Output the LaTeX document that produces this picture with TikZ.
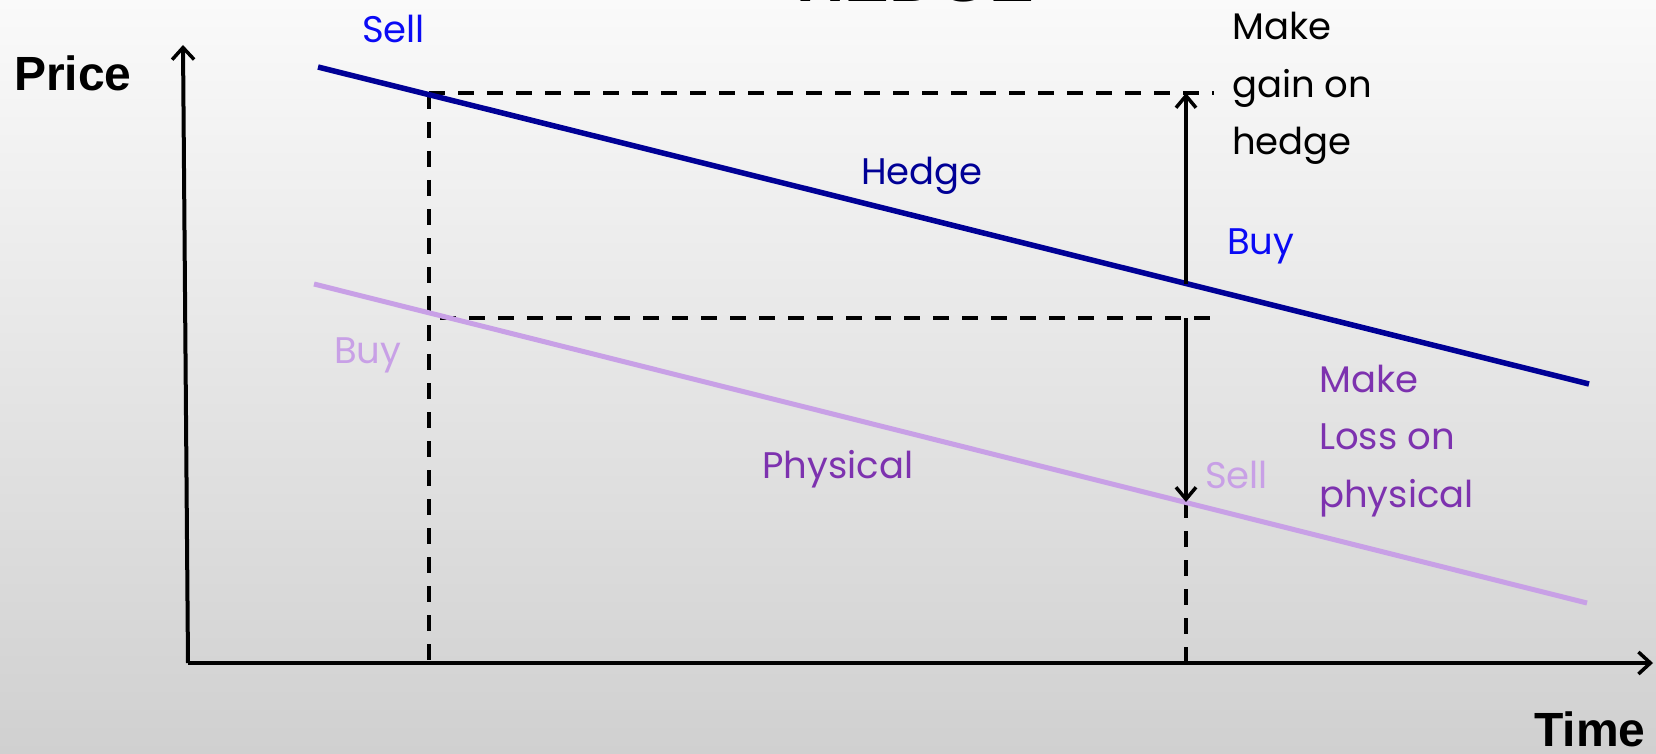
\documentclass[tikz,border=0pt]{standalone}
\usepackage{fontspec}
\setmainfont{Poppins}
\newfontfamily\arialf{Liberation Sans}
\usetikzlibrary{arrows.meta}
\definecolor{navy}{RGB}{0,0,150}
\definecolor{brightblue}{RGB}{10,10,245}
\definecolor{lilac}{RGB}{200,160,230}
\definecolor{violet}{RGB}{125,50,175}
\definecolor{bgtop}{RGB}{250,250,250}
\definecolor{bgbot}{RGB}{208,208,208}
\begin{document}
\begin{tikzpicture}[x=1pt,y=-1pt,
  lab/.style={inner sep=0pt, anchor=base west, font=\fontsize{37}{57.5}\selectfont, align=left},
  axislab/.style={inner sep=0pt, anchor=base west, font=\arialf\bfseries\fontsize{48}{48}\selectfont},
  axisline/.style={line width=4pt, -{Straight Barb[length=12pt,width=22pt,line width=3.5pt]}},
  dash3/.style={line width=4pt, dash pattern=on 16pt off 13pt},
  movearrow/.style={line width=3.5pt, -{Straight Barb[length=12pt,width=20pt,line width=3.5pt]}},
  hedgeline/.style={navy, line width=5.5pt},
  physline/.style={lilac, line width=5pt}]
\useasboundingbox (0,0) rectangle (1656,754);
\shade[top color=bgtop, bottom color=bgbot] (0,0) rectangle (1656,754);
\begin{scope}
\clip (0,0) rectangle (1656,754);
\node[inner sep=0pt, anchor=base west, font=\arialf\bfseries\fontsize{67}{67}\selectfont] (title) at (796,2) {HEDGE};
\end{scope}
% coordinates
\coordinate (O) at (188,663);
\coordinate (Ytop) at (183,45);
\coordinate (Xend) at (1653,663);
\coordinate (H1) at (318,67);
\coordinate (H2) at (1589,384);
\coordinate (P1) at (314,284);
\coordinate (P2) at (1587,603);
\coordinate (LT) at (429,93);
\coordinate (LB) at (429,663);
\coordinate (TR) at (1214,93);
\coordinate (MS) at (440,318);
\coordinate (MR) at (1214,318);
\coordinate (AH) at (1186,283.5);
\coordinate (AT) at (1186,93);
\coordinate (AM) at (1186,318);
\coordinate (AP) at (1186,502);
\coordinate (AB) at (1186,663);
% dashed guides
\draw[dash3] (LT) -- (LB);
\draw[dash3] (LT) -- (TR);
\draw[dash3] (MS) -- (MR);
\draw[dash3] (AP) -- (AB);
% price lines
\draw[physline] (P1) -- (P2);
\draw[hedgeline] (H1) -- (H2);
% axes
\draw[axisline] (O) -- (Ytop);
\draw[axisline] (O) -- (Xend);
% move arrows
\draw[movearrow] (AH) -- (AT);
\draw[movearrow] (AM) -- (AP);
% labels
\node[axislab] (price) at (14,91) {Price};
\node[axislab] (time) at (1534,746) {Time};
\node[lab, text=brightblue] (sellH) at (362,43) {Sell};
\node[lab, text=navy] (hedge) at (861,185) {Hedge};
\node[lab, text=brightblue] (buyH) at (1227,254) {Buy};
\node[lab, text=lilac] (buyP) at (334,363) {Buy};
\node[lab, text=violet] (phys) at (762,478) {Physical};
\node[lab, text=lilac] (sellP) at (1205,488) {Sell};
\node[lab, text=violet] (loss) at (1319,507) {Make\\Loss on\\physical};
\node[lab, text=black] (gain) at (1232,155) {Make\\gain on\\hedge};
\end{tikzpicture}
\end{document}
